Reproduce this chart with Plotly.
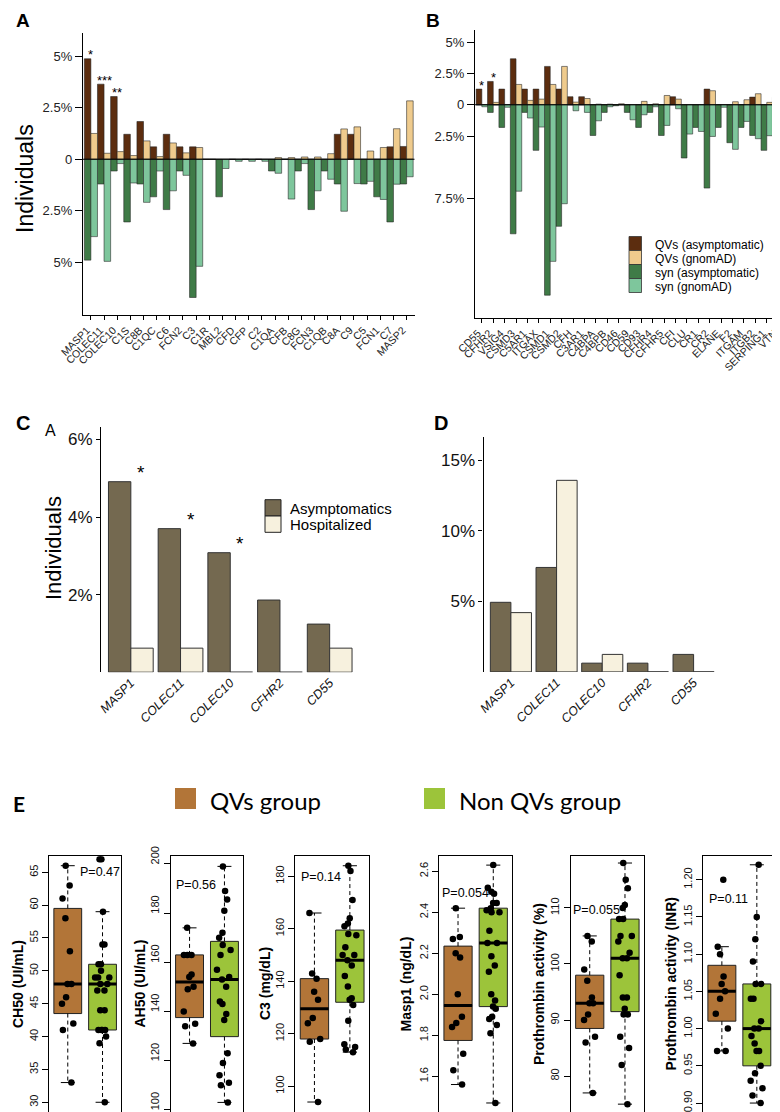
import math
import plotly.graph_objects as go

W, H = 780, 1112
def fx(p): return p / W
def fy(p): return 1 - p / H

SANS = '"Liberation Sans", Arial, Helvetica, sans-serif'
LEGF = 'Lato, Carlito, Calibri, sans-serif'

# ---------------- Panel A data (% individuals) ----------------
A_genes = ["MASP1", "COLEC11", "COLEC10", "C1S", "C8B", "C1QC", "C6", "FCN2", "C3", "C1R",
           "MBL2", "CFD", "CFP", "C2", "C1QA", "CFB", "C8G", "FCN3", "C1QB", "C8A",
           "C9", "C5", "FCN1", "C7", "MASP2"]
A_qv_asym = [4.87, 3.64, 3.04, 1.21, 1.83, 0.60, 1.21, 0.60, 0.60, 0, 0, 0, 0, 0, 0,
             0, 0, 0, 0, 1.21, 1.21, 0, 0, 0.60, 0.62]
A_qv_gnomad = [1.25, 0.29, 0.37, 0.18, 0.89, 0.13, 0.79, 0.31, 0.57, 0, 0, 0, 0, 0, 0.08,
               0.08, 0.11, 0.11, 0.27, 1.47, 1.57, 0.40, 0.57, 1.48, 2.83]
A_syn_asym = [4.89, 1.20, 0.57, 3.04, 1.20, 1.82, 2.44, 0.57, 6.70, 0, 1.82, 0, 0, 0, 0.57,
              0, 0.57, 2.44, 0.57, 1.20, 0, 1.20, 1.82, 3.04, 1.20]
A_syn_gnomad = [3.75, 4.95, 0.21, 1.15, 2.09, 0.57, 1.53, 0.78, 5.19, 0, 0.45, 0.10, 0.10, 0.10, 0.68,
                1.93, 0.21, 1.53, 0.97, 2.52, 1.18, 1.07, 1.95, 1.21, 0.85]
A_stars = [("MASP1", "*"), ("COLEC11", "***"), ("COLEC10", "**")]

# ---------------- Panel B data ----------------
B_genes = ["CD55", "CFHR2", "VSIG4", "CSMD3", "C5AR1", "ITGAX", "CSMD1", "CSMD2", "CFH", "C3AR1",
           "C4BPA", "C4BPB", "CD46", "CD59", "CD93", "CFHR4", "CFHR5", "CFI", "CLU", "CR1",
           "CR2", "ELANE", "F2", "ITGAM", "ITGB2", "SERPING1", "VTN"]
B_qv_asym = [1.25, 1.86, 1.25, 3.67, 1.25, 1.25, 3.06, 1.25, 0.64, 0.64, 0, 0, 0, 0, 0, 0, 0,
             0.64, 0, 0, 1.25, 0, 0, 0, 0.61, 0, 0.61]
B_qv_gnomad = [0, 0.19, 0, 1.62, 0.35, 0.45, 1.62, 3.06, 0.21, 0.50, 0.05, 0.05, 0.08, 0, 0.27,
               0.08, 0.74, 0.45, 0, 0, 1.12, 0, 0.24, 0.40, 0.88, 0.19, 0.43]
B_syn_asym = [0, 0.61, 1.81, 10.3, 0.61, 3.64, 15.2, 9.7, 0, 0, 2.45, 0.61, 0.08, 0.61, 1.81,
              0.61, 2.45, 0, 4.25, 1.81, 6.65, 1.81, 3.03, 1.81, 2.45, 3.64, 1.20]
B_syn_gnomad = [0.16, 0, 0.20, 6.9, 1.06, 1.78, 12.5, 7.9, 0.48, 0.61, 1.28, 0.16, 0, 1.20, 0.80,
                0.16, 1.65, 0.32, 2.34, 2.13, 2.53, 0.20, 3.56, 1.33, 2.71, 2.47, 0.37]
B_stars = [("CD55", "*"), ("CFHR2", "*")]
B_legend = ["QVs (asymptomatic)", "QVs (gnomAD)", "syn (asymptomatic)", "syn (gnomAD)"]

# ---------------- Panels C / D data ----------------
CD_genes = ["MASP1", "COLEC11", "COLEC10", "CFHR2", "CD55"]
C_asym = [4.91, 3.70, 3.08, 1.86, 1.24]
C_hosp = [0.62, 0.62, 0, 0, 0.62]
C_stars = ["MASP1", "COLEC11", "COLEC10"]
D_asym = [4.93, 7.40, 0.62, 0.62, 1.24]
D_hosp = [4.20, 13.57, 1.24, 0, 0]
CD_legend = ["Asymptomatics", "Hospitalized"]

# ---------------- Panel E data ----------------
CH50_qv = [66, 63, 61, 58, 53, 48, 48, 46, 45, 42, 41, 33]
CH50_non = [67, 67, 59, 54, 54, 51, 51, 50, 49, 49, 49, 48, 48, 47, 47, 44, 44, 41, 41, 41, 41, 40, 39, 30]
AH50_qv = [174, 163, 163, 163, 155, 154, 150, 149, 140, 135, 134, 127]
AH50_non = [199, 189, 185.5, 181, 172, 170, 167, 165, 163, 157, 154, 153, 150, 144, 143, 139, 136.5,
            123, 119, 114, 111, 110, 103]
C3_qv = [166, 143, 141, 136, 133, 126, 124, 118, 117, 94]
C3_non = [184, 182, 171, 164, 162, 161, 158, 157.5, 153, 150, 150, 148, 146, 142, 138, 133.5, 133,
          131, 125, 116, 115, 114, 113]
Masp1_qv = [2.42, 2.28, 2.27, 2.20, 2.18, 2.00, 1.89, 1.86, 1.84, 1.71, 1.63, 1.56]
Masp1_non = [2.63, 2.52, 2.50, 2.49, 2.445, 2.445, 2.42, 2.41, 2.40, 2.40, 2.31, 2.25, 2.25, 2.185,
             2.14, 2.11, 2.00, 1.97, 1.94, 1.93, 1.89, 1.88, 1.85, 1.81, 1.47]
Proth_qv = [105, 104, 99, 97, 94, 93, 93, 91, 90, 87, 86, 77]
Proth_non = [118, 115, 113.5, 110.5, 110, 108, 108, 105, 105, 104, 102, 101, 101, 98, 94, 94, 92,
             91, 91, 87, 85, 82, 75]
INR_qv = [1.20, 1.11, 1.10, 1.07, 1.06, 1.05, 1.04, 1.02, 1.00, 0.97, 0.97]
INR_non = [1.22, 1.15, 1.12, 1.09, 1.06, 1.06, 1.04, 1.04, 1.01, 1.00, 1.00, 0.99, 0.98, 0.97,
           0.97, 0.95, 0.94, 0.93, 0.92, 0.91, 0.90]
E_titles = ["CH50 (UI/mL)", "AH50 (UI/mL)", "C3 (mg/dL)", "Masp1 (ng/dL)",
            "Prothrombin activity (%)", "Prothrombin activity (INR)"]
E_pvals = ["P=0.47", "P=0.56", "P=0.14", "P=0.054", "P=0.055", "P=0.11"]
E_ticks = [[30, 35, 40, 45, 50, 55, 60, 65], [100, 120, 140, 160, 180, 200],
           [100, 120, 140, 160, 180], [1.6, 1.8, 2.0, 2.2, 2.4, 2.6],
           [80, 90, 100, 110], [0.90, 0.95, 1.00, 1.05, 1.10, 1.15, 1.20]]
E_groups = ["QVs group", "Non QVs group"]

# ---------------- styling ----------------
COL_QV_ASYM = "#5C2D0F"
COL_QV_GNOM = "#EFCB8D"
COL_SYN_ASYM = "#3F7B47"
COL_SYN_GNOM = "#7EC69C"
COL_ASYM = "#746950"
COL_HOSP = "#F7F1DE"
COL_BROWN = "#B27538"
COL_GREEN = "#9CC43A"
OUTLINE = "rgba(35,35,35,0.8)"

fig = go.Figure()

def add_bars(xa, ya, cats, vals, sign, offset, width, color, lw=0.7, lc=OUTLINE):
    fig.add_trace(go.Bar(x=cats, y=[sign * v for v in vals], offset=offset, width=width,
                         marker=dict(color=color, line=dict(color=lc, width=lw)),
                         xaxis=xa, yaxis=ya, showlegend=False, hoverinfo="skip"))

# A
add_bars("x", "y", A_genes, A_qv_asym, 1, -0.5, 0.5, COL_QV_ASYM)
add_bars("x", "y", A_genes, A_qv_gnomad, 1, 0.0, 0.5, COL_QV_GNOM)
add_bars("x", "y", A_genes, A_syn_asym, -1, -0.5, 0.5, COL_SYN_ASYM)
add_bars("x", "y", A_genes, A_syn_gnomad, -1, 0.0, 0.5, COL_SYN_GNOM)
# B
add_bars("x2", "y2", B_genes, B_qv_asym, 1, -0.5, 0.5, COL_QV_ASYM)
add_bars("x2", "y2", B_genes, B_qv_gnomad, 1, 0.0, 0.5, COL_QV_GNOM)
add_bars("x2", "y2", B_genes, B_syn_asym, -1, -0.5, 0.5, COL_SYN_ASYM)
add_bars("x2", "y2", B_genes, B_syn_gnomad, -1, 0.0, 0.5, COL_SYN_GNOM)
# C / D
add_bars("x3", "y3", CD_genes, C_asym, 1, -0.45, 0.45, COL_ASYM, 1.0, "#333")
add_bars("x3", "y3", CD_genes, C_hosp, 1, 0.0, 0.45, COL_HOSP, 1.0, "#333")
add_bars("x4", "y4", CD_genes, D_asym, 1, -0.45, 0.45, COL_ASYM, 1.0, "#333")
add_bars("x4", "y4", CD_genes, D_hosp, 1, 0.0, 0.45, COL_HOSP, 1.0, "#333")

# E: boxplots (R style, Tukey hinges)
def fivenum(v):
    x = sorted(v)
    n = len(x)
    n4 = math.floor((n + 3) / 2) / 2
    d = [1, n4, (n + 1) / 2, n + 1 - n4, n]
    return [0.5 * (x[math.floor(di) - 1] + x[math.ceil(di) - 1]) for di in d]

def box_stats(v):
    _, q1, med, q3, _ = fivenum(v)
    iqr = q3 - q1
    lo = min(a for a in v if a >= q1 - 1.5 * iqr - 1e-9)
    hi = max(a for a in v if a <= q3 + 1.5 * iqr + 1e-9)
    return q1, med, q3, lo, hi

E_data = [(CH50_qv, CH50_non), (AH50_qv, AH50_non), (C3_qv, C3_non),
          (Masp1_qv, Masp1_non), (Proth_qv, Proth_non), (INR_qv, INR_non)]

for i, (qv, non) in enumerate(E_data):
    xa, ya = "x%d" % (i + 5), "y%d" % (i + 5)
    for pos, vals, col in [(1, qv, COL_BROWN), (2, non, COL_GREEN)]:
        q1, med, q3, lo, hi = box_stats(vals)
        fig.add_trace(go.Scatter(x=[pos, pos, None, pos, pos], y=[q3, hi, None, q1, lo],
                                 mode="lines", line=dict(color="black", width=1, dash="4px,3px"),
                                 xaxis=xa, yaxis=ya, showlegend=False, hoverinfo="skip"))
        fig.add_trace(go.Scatter(x=[pos - 0.2, pos + 0.2, None, pos - 0.2, pos + 0.2],
                                 y=[hi, hi, None, lo, lo], mode="lines",
                                 line=dict(color="black", width=1),
                                 xaxis=xa, yaxis=ya, showlegend=False, hoverinfo="skip"))
        fig.add_trace(go.Box(x=[pos], q1=[q1], median=[med], q3=[q3], lowerfence=[q1],
                             upperfence=[q3], width=0.8, whiskerwidth=0, fillcolor=col,
                             line=dict(color="#222", width=1), boxpoints=False,
                             xaxis=xa, yaxis=ya, showlegend=False, hoverinfo="skip"))
        fig.add_trace(go.Scatter(x=[pos - 0.4, pos + 0.4], y=[med, med], mode="lines",
                                 line=dict(color="black", width=3),
                                 xaxis=xa, yaxis=ya, showlegend=False, hoverinfo="skip"))
        fig.add_trace(go.Box(x=[pos] * len(vals), y=vals, boxpoints="all", jitter=0.55,
                             pointpos=0, width=0.8, fillcolor="rgba(0,0,0,0)",
                             line=dict(color="rgba(0,0,0,0)", width=0),
                             marker=dict(color="black", size=6.5),
                             xaxis=xa, yaxis=ya, showlegend=False, hoverinfo="skip"))

# ---------------- axes ----------------
layout = dict(width=W, height=H, margin=dict(l=0, r=0, t=0, b=0), autosize=False,
              template="none", paper_bgcolor="white", plot_bgcolor="white",
              barmode="overlay", boxmode="overlay", showlegend=False, hovermode=False,
              font=dict(family=SANS, color="black"))

def cat_x(dom, anchor, cats, **kw):
    d = dict(domain=[fx(dom[0]), fx(dom[1])], anchor=anchor, type="category",
             range=[-0.6, len(cats) - 0.4], tickmode="array", tickvals=cats, ticktext=cats,
             showgrid=False, zeroline=False, automargin=False, tickangle=-45, fixedrange=True)
    d.update(kw)
    return d

def lin_y(dom, anchor, rng, tv, tt, **kw):
    d = dict(domain=[fy(dom[1]), fy(dom[0])], anchor=anchor, range=rng, tickvals=tv,
             ticktext=tt, showgrid=False, zeroline=False, automargin=False,
             showline=True, linecolor="black", linewidth=1.3, ticks="outside",
             tickcolor="black", fixedrange=True)
    d.update(kw)
    return d

layout["xaxis"] = cat_x((75, 406.5), "y", A_genes, showline=True, linecolor="black",
                        linewidth=1.3, ticks="outside", ticklen=4, tickcolor="black",
                        ticklabelshift=-4, tickfont=dict(size=10.5, color="#222"))
layout["yaxis"] = lin_y((25, 307), "x", [-7.55, 6.12], [5, 2.5, 0, -2.5, -5],
                        ["5%", "2.5%", "0", "2.5%", "5%"], ticklen=7,
                        tickfont=dict(size=13, color="#222"))
layout["xaxis2"] = cat_x((467, 777), "y2", B_genes, showline=True, linecolor="black",
                         linewidth=1.3, ticks="outside", ticklen=4, tickcolor="black",
                         ticklabelshift=-4, tickfont=dict(size=10.5, color="#222"))
layout["yaxis2"] = lin_y((21.7, 310), "x2", [-17.02, 5.99], [5, 2.5, 0, -2.5, -7.5],
                         ["5%", "2.5%", "0", "2.5%", "7.5%"], ticklen=7,
                         tickfont=dict(size=13, color="#222"))
layout["xaxis3"] = cat_x((93, 351.5), "y3", CD_genes, showline=False, ticks="",
                         tickfont=dict(size=12.5, style="italic", color="#111"))
layout["yaxis3"] = lin_y((419, 664.2), "x3", [0, 6.32], [2, 4, 6], ["2%", "4%", "6%"],
                         ticklen=4, linewidth=1.1, tickfont=dict(size=17, color="#111"))
layout["xaxis4"] = cat_x((475.5, 713), "y4", CD_genes, showline=False, ticks="",
                         tickfont=dict(size=12.5, style="italic", color="#111"))
layout["yaxis4"] = lin_y((429, 663.9), "x4", [0, 16.64], [5, 10, 15], ["5%", "10%", "15%"],
                         ticklen=4, linewidth=1.1, tickfont=dict(size=17, color="#111"))

E_xpx = [(41, 113.3), (162.7, 235.3), (287.3, 361), (431, 504.3), (562.7, 636), (695, 767.7)]
E_ranges = [[28.52, 67.43], [99.1, 203.1], [90.2, 187.6], [1.426, 2.673], [73.6, 119.2], [0.888, 1.2314]]
E_fmt = ["", "", "", ".1f", "", ".2f"]
E_shift = [0, -7, 0, 0, 0, 0]
for i in range(6):
    k = i + 5
    layout["xaxis%d" % k] = dict(domain=[fx(E_xpx[i][0]), fx(E_xpx[i][1])], anchor="y%d" % k,
                                 range=[0.46, 2.54], showgrid=False, zeroline=False,
                                 showline=True, mirror=True, linecolor="black", linewidth=1,
                                 ticks="", showticklabels=False, automargin=False, fixedrange=True)
    layout["yaxis%d" % k] = dict(domain=[fy(1104), fy(848.3)], anchor="x%d" % k,
                                 range=E_ranges[i], tickvals=E_ticks[i], tickformat=E_fmt[i],
                                 showgrid=False, zeroline=False, showline=True, mirror=True,
                                 linecolor="black", linewidth=1, ticks="outside", ticklen=6,
                                 tickcolor="black", tickangle=-90, ticklabelshift=E_shift[i],
                                 tickfont=dict(size=11, color="#111"),
                                 automargin=False, fixedrange=True)

# ---------------- shapes ----------------
shapes = []
for xr, yr in [("x domain", "y"), ("x2 domain", "y2")]:
    shapes.append(dict(type="line", xref=xr, yref=yr, x0=0, x1=1, y0=0, y1=0,
                       line=dict(color="black", width=1)))
b_cols = [COL_QV_ASYM, COL_QV_GNOM, COL_SYN_ASYM, COL_SYN_GNOM]
b_rows = [228.5, 242.5, 256.5, 270.5, 284.5]
for j, c in enumerate(b_cols):
    shapes.append(dict(type="rect", xref="paper", yref="paper", x0=fx(621), x1=fx(633.5),
                       y0=fy(b_rows[j + 1]), y1=fy(b_rows[j]), fillcolor=c,
                       line=dict(color="#333", width=0.8)))
c_rows = [491.7, 508, 524.3]
for j, c in enumerate([COL_ASYM, COL_HOSP]):
    shapes.append(dict(type="rect", xref="paper", yref="paper", x0=fx(257), x1=fx(273),
                       y0=fy(c_rows[j + 1]), y1=fy(c_rows[j]), fillcolor=c,
                       line=dict(color="#222", width=1)))
for x0, c in [(167, COL_BROWN), (416, COL_GREEN)]:
    shapes.append(dict(type="rect", xref="paper", yref="paper", x0=fx(x0), x1=fx(x0 + 21),
                       y0=fy(801), y1=fy(780), fillcolor=c, line=dict(width=0)))
layout["shapes"] = shapes

# ---------------- annotations ----------------
ann = []
def txt(x, y, s, size, **kw):
    d = dict(x=fx(x), y=fy(y), xref="paper", yref="paper", text=s, showarrow=False,
             font=dict(size=size, family=kw.pop("family", SANS), color=kw.pop("color", "black")),
             xanchor=kw.pop("xanchor", "center"), yanchor=kw.pop("yanchor", "middle"))
    d.update(kw)
    ann.append(d)

txt(15, 12, "<b>A</b>", 19)
txt(425, 12, "<b>B</b>", 19)
txt(15, 415, "<b>C</b>", 20)
txt(433, 415, "<b>D</b>", 20)
txt(42, 422.5, "A", 16)
txt(11, 795, "<b>E</b>", 21, family=LEGF)
txt(17, 171, "Individuals", 23, textangle=-90)
txt(45, 540, "Individuals", 22, textangle=-90)

A_idx = {g: i for i, g in enumerate(A_genes)}
for g, s in A_stars:
    ann.append(dict(x=g, y=A_qv_asym[A_idx[g]], xref="x", yref="y", text=s, showarrow=False,
                    font=dict(size=13, family=SANS), yanchor="middle", yshift=4))
B_idx = {g: i for i, g in enumerate(B_genes)}
for g, s in B_stars:
    ann.append(dict(x=g, y=B_qv_asym[B_idx[g]], xref="x2", yref="y2", text=s, showarrow=False,
                    font=dict(size=13, family=SANS), yanchor="middle", yshift=4))
for g in C_stars:
    ann.append(dict(x=g, y=C_asym[CD_genes.index(g)], xref="x3", yref="y3", text="*",
                    showarrow=False, font=dict(size=19, family=SANS), yanchor="middle",
                    xshift=10, yshift=9))

b_centers = [236.5, 250.5, 264.5, 278.5]
for j, s in enumerate(B_legend):
    txt(645, b_centers[j], s, 12, xanchor="left")
for j, s in enumerate(CD_legend):
    txt(280, [500, 516.5][j], s, 15, xanchor="left")
txt(200, 792, E_groups[0], 24, family=LEGF, xanchor="left")
txt(449, 792, E_groups[1], 24, family=LEGF, xanchor="left")

E_title_x = [10, 131.5, 257, 397.5, 531, 662.5]
E_p_pos = [(70, 864), (165.7, 876.7), (291, 869.3), (432.3, 885), (563.3, 901.7), (699.3, 891)]
for i in range(6):
    txt(E_title_x[i], 976, "<b>%s</b>" % E_titles[i], 14, textangle=-90)
    txt(E_p_pos[i][0], E_p_pos[i][1], E_pvals[i], 12.5, xanchor="left")

layout["annotations"] = ann
fig.update_layout(**layout)
fig.write_html("out.html")
